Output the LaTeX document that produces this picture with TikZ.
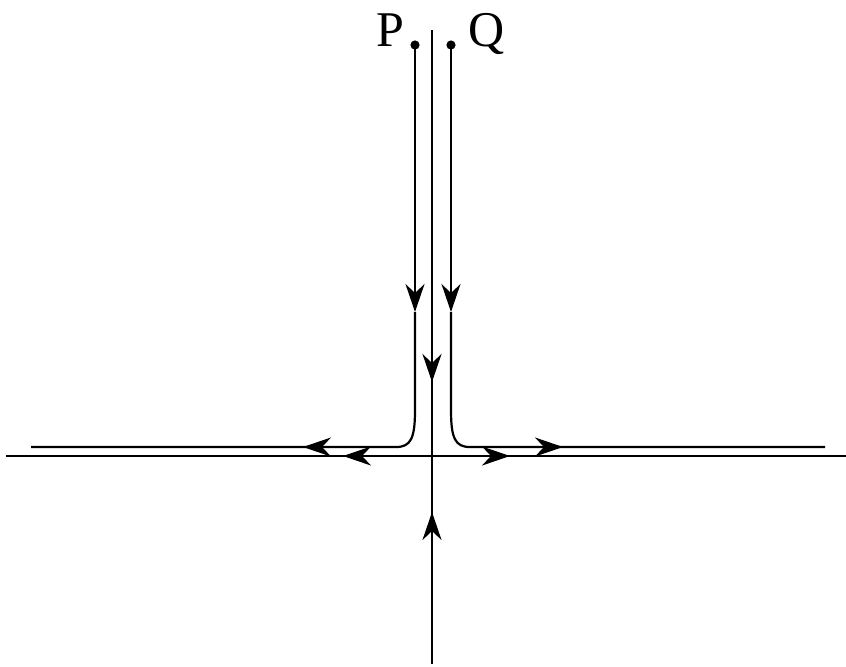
\documentclass[tikz,border=0pt]{standalone}
\usepackage{fontspec}
\setmainfont{Liberation Serif}
\usetikzlibrary{arrows.meta}
\begin{document}
\begin{tikzpicture}[x=0.5pt,y=-0.5pt,line width=1.1pt,
    flecha/.style={-{Stealth[length=14pt,width=9.5pt,inset=4.5pt]}},
    etiqueta/.style={font=\fontsize{25}{30}\selectfont,inner sep=0pt}]
    \useasboundingbox (0,0) rectangle (846,666);
    % Ejes: la variedad estable (vertical) y la inestable (horizontal).
    \coordinate (O) at (432,456);
    \draw (6,456) -- (846,456);
    \draw (432,30) -- (O);
    \draw (O) -- (432,664);
    \draw[flecha] (432,30) -- (432,382);
    \draw[flecha] (432,664) -- (432,512);
    \draw[flecha] (O) -- (343,456);
    \draw[flecha] (O) -- (510,456);
    % Trayectorias que salen de P y de Q.
    \fill (415,45) circle[radius=2.3pt] coordinate (p);
    \fill (451,45) circle[radius=2.3pt] coordinate (q);
    \node[etiqueta,anchor=base east] (P) at (405,46) {P};
    \node[etiqueta,anchor=base west] (Q) at (467,46) {Q};
    \draw[flecha] (p) -- (415,312);
    \draw (415,312) -- (415,410) .. controls (415,438) and (411,447) .. (396,447) -- (31,447);
    \draw[flecha] (396,447) -- (303,447);
    \draw[flecha] (q) -- (451,312);
    \draw (451,312) -- (451,410) .. controls (451,438) and (455,447) .. (470,447) -- (825,447);
    \draw[flecha] (470,447) -- (563,447);
\end{tikzpicture}
\end{document}
